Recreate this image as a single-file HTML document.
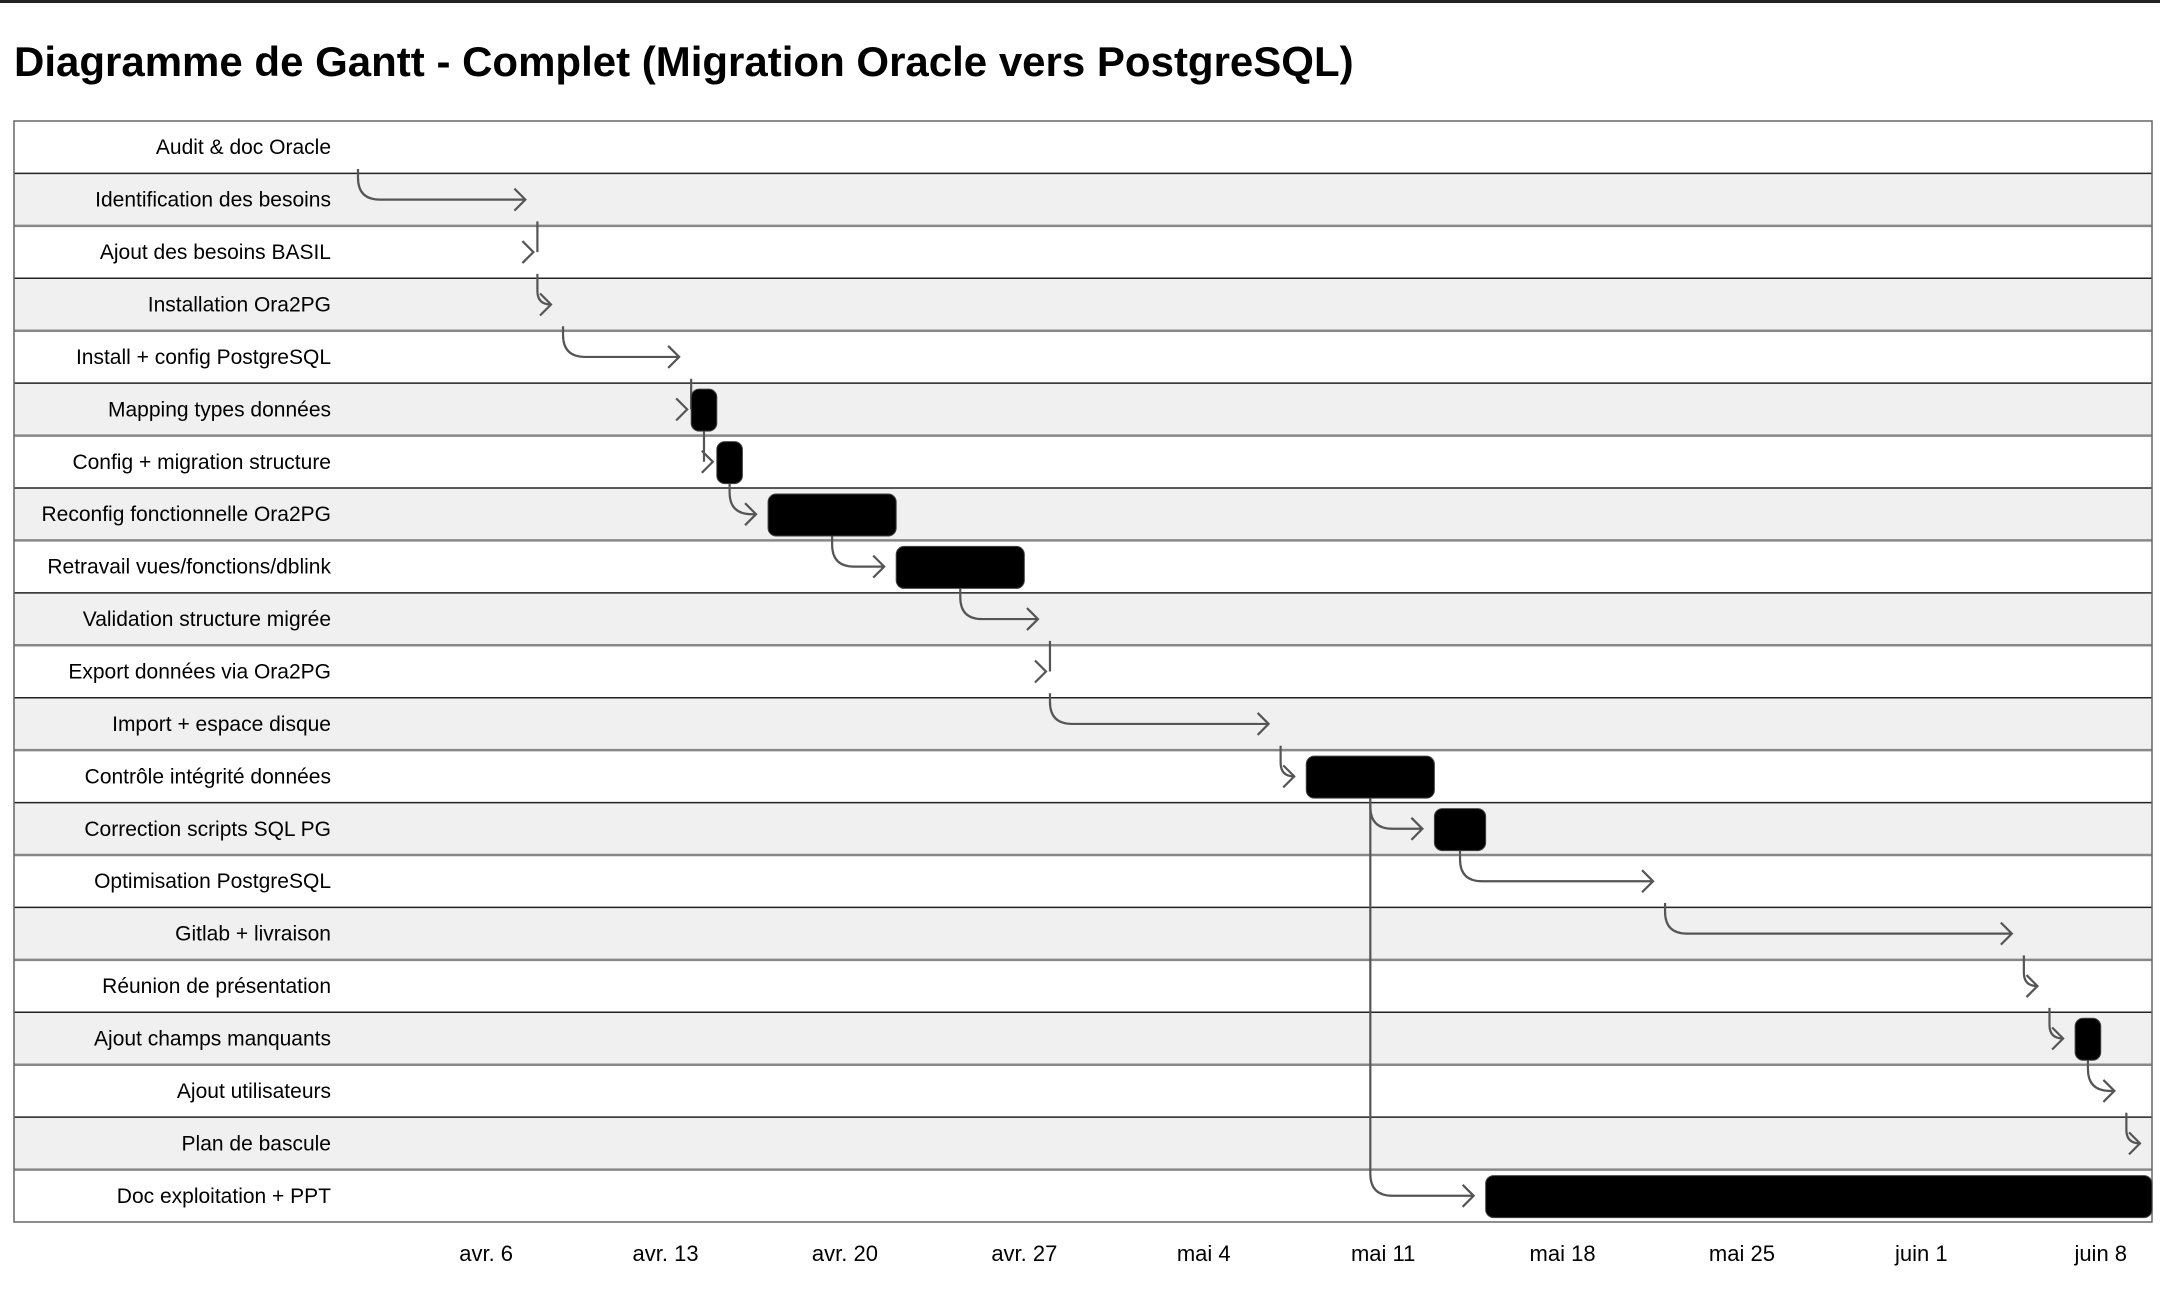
<!DOCTYPE html>
<html><head><meta charset="utf-8">
<style>
html,body{margin:0;padding:0;background:#fff;}
body{width:2160px;height:1301px;overflow:hidden;position:relative;font-family:"Liberation Sans",Arial,sans-serif;}
#topbar{position:absolute;left:0;top:0;width:2160px;height:3px;background:#222;}
#title{position:absolute;left:14px;top:38px;font-size:42px;font-weight:bold;color:#000;white-space:nowrap;}
svg{position:absolute;left:0;top:0;}
</style></head>
<body>
<div id="topbar"></div>
<div id="title">Diagramme de Gantt - Complet (Migration Oracle vers PostgreSQL)</div>
<svg id="chart" width="2160" height="1301"></svg>
<script>
const taskNames = ["Audit & doc Oracle","Identification des besoins","Ajout des besoins BASIL","Installation Ora2PG","Install + config PostgreSQL","Mapping types données","Config + migration structure","Reconfig fonctionnelle Ora2PG","Retravail vues/fonctions/dblink","Validation structure migrée","Export données via Ora2PG","Import + espace disque","Contrôle intégrité données","Correction scripts SQL PG","Optimisation PostgreSQL","Gitlab + livraison","Réunion de présentation","Ajout champs manquants","Ajout utilisateurs","Plan de bascule","Doc exploitation + PPT"];
// day offsets from 1 April
const taskStart = [0,7,7,8,13,13,14,16,21,27,27,36,37,42,51,65,66,67,69,70,44];
const taskEnd   = [0,7,7,8,13,14,15,21,26,27,27,36,42,44,51,65,66,68,69,70,70];
const depFrom = [0,1,2,3,4,5,6,7,8,9,10,11,12,13,14,15,16,17,18,12];
const depTo   = [1,2,3,4,5,6,7,8,9,10,11,12,13,14,15,16,17,18,19,20];
const tickLabels = ["avr. 6","avr. 13","avr. 20","avr. 27","mai 4","mai 11","mai 18","mai 25","juin 1","juin 8"];
const tickDays = [5,12,19,26,33,40,47,54,61,68];

const NS="http://www.w3.org/2000/svg";
const svg=document.getElementById('chart');
const L=14,R=2152,T=121,B=1222;
const rowH=(B-T)/taskNames.length;
const x0=358, dayW=(R-x0)/70;
function xs(d){return x0+d*dayW;}
function rowY(i){return T+i*rowH;}
function mk(tag,attrs){const e=document.createElementNS(NS,tag);for(const k in attrs)e.setAttribute(k,attrs[k]);svg.appendChild(e);return e;}

for(let i=0;i<taskNames.length;i++){
  const r=mk('rect',{x:L,y:rowY(i),width:R-L,height:rowH,fill:i%2?'#f0f0f0':'#ffffff'});
  
  
}
for(let i=1;i<taskNames.length;i++){
  const dark=(i%2===1);
  const ln=mk('line',{x1:L,x2:R,y1:rowY(i),y2:rowY(i),stroke:dark?'#222':'#888','stroke-width':dark?1.5:2.5});
  
  
}
const border=mk('rect',{x:L,y:T,width:R-L,height:B-T,fill:'none',stroke:'#666','stroke-width':1.5});



for(let i=0;i<taskNames.length;i++){
  const t=mk('text',{x:331,y:rowY(i)+rowH/2+7,'text-anchor':'end','font-size':21,fill:'#000','font-family':'Liberation Sans, Arial, sans-serif'});
  t.textContent=taskNames[i];
  
  
}
for(let i=0;i<tickLabels.length;i++){
  const t=mk('text',{x:xs(tickDays[i]),y:1261,'text-anchor':'middle','font-size':22,fill:'#000','font-family':'Liberation Sans, Arial, sans-serif'});
  t.textContent=tickLabels[i];
  
  
}
const barOff=6, barH=42;
for(let k=0;k<depFrom.length;k++){
  const p=depFrom[k], c=depTo[k];
  const px=(xs(taskStart[p])+xs(taskEnd[p]))/2;
  const sy=rowY(p)+barOff+barH;
  const cx=xs(taskStart[c]);
  const cy=rowY(c)+rowH/2;
  let d, tip;
  if(cx-px<20){
    tip=cx-4;
    d=`M${px},${sy} V${cy}`;
  } else {
    tip=cx-12;
    let r=Math.min(22,tip-px, cy-sy);
    d=`M${px},${sy} V${cy-r} Q${px},${cy} ${px+r},${cy} H${tip}`;
  }
  d+=` M${tip-11},${cy-11} L${tip},${cy} L${tip-11},${cy+11}`;
  const a=mk('path',{d:d,fill:'none',stroke:'#555','stroke-width':2.2});
  
  
}
for(let i=0;i<taskNames.length;i++){
  const w=xs(taskEnd[i])-xs(taskStart[i]);
  if(w<=0)continue;
  const b=mk('rect',{x:xs(taskStart[i]),y:rowY(i)+barOff,width:w,height:barH,rx:8,fill:'#000',stroke:'#444','stroke-width':1});
  
  
}
</script>
</body></html>
